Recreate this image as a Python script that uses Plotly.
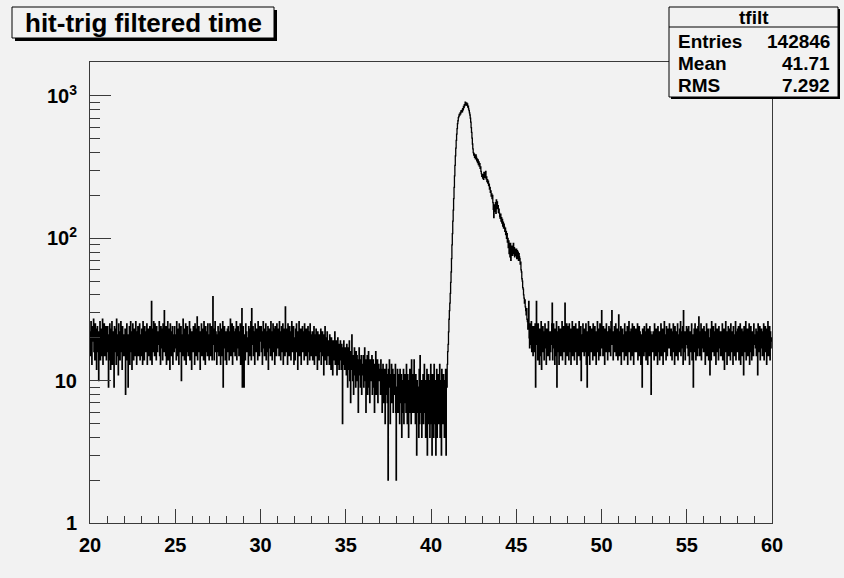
import numpy as np
import plotly.graph_objects as go

# ---- histogram "tfilt": hit-trig filtered time, 0.025 wide bins from 20 to 60 ----
x_lo = 20.0
x_hi = 60.0
bin_width = 0.025

# bin contents, one row per unit of time (40 bins each)
counts_by_unit = [
    [22, 15, 26, 18, 13, 24, 19, 21, 27, 16, 20, 14, 25, 17, 23, 12, 19, 24, 16, 21,
     10, 22, 18, 26, 14, 20, 23, 15, 19, 27, 13, 21, 17, 25, 15, 22, 18, 24, 14, 20],  # 20
    [18, 24, 16, 9, 21, 14, 25, 19, 12, 23, 17, 26, 13, 20, 22, 15, 9, 24, 18, 16,
     23, 13, 27, 19, 15, 21, 11, 25, 17, 22, 14, 20, 26, 16, 19, 12, 24, 18, 21, 15],  # 21
    [20, 15, 23, 8, 18, 22, 25, 14, 19, 9, 21, 17, 24, 13, 20, 26, 16, 22, 12, 19,
     25, 18, 14, 23, 17, 21, 15, 26, 19, 13, 22, 17, 24, 15, 20, 18, 25, 14, 21, 18],  # 22
    [15, 23, 19, 13, 26, 17, 21, 14, 24, 18, 22, 16, 20, 25, 13, 19, 23, 15, 21, 17,
     24, 14, 20, 18, 36, 13, 22, 16, 23, 26, 19, 15, 25, 17, 21, 14, 24, 20, 16, 22],  # 23
    [22, 18, 26, 15, 21, 13, 24, 19, 17, 23, 14, 25, 20, 16, 31, 19, 22, 15, 24, 13,
     21, 18, 26, 14, 20, 23, 17, 12, 25, 19, 15, 22, 18, 24, 13, 21, 20, 16, 24, 17],  # 24
    [17, 21, 14, 26, 19, 23, 15, 20, 13, 25, 18, 22, 16, 24, 10, 19, 21, 15, 27, 17,
     23, 14, 20, 18, 25, 13, 22, 16, 24, 19, 15, 21, 17, 26, 14, 23, 18, 20, 12, 22],  # 25
    [20, 16, 24, 18, 22, 13, 25, 19, 15, 23, 17, 28, 14, 21, 18, 24, 16, 20, 12, 22,
     19, 25, 15, 21, 17, 23, 14, 26, 18, 20, 13, 24, 16, 22, 19, 15, 25, 17, 21, 14],  # 26
    [19, 25, 15, 21, 17, 24, 14, 20, 39, 18, 23, 14, 20, 26, 16, 22, 18, 13, 21, 16,
     24, 19, 15, 22, 17, 25, 13, 20, 23, 15, 19, 26, 9, 21, 17, 24, 18, 14, 22, 16],  # 27
    [13, 20, 23, 16, 24, 18, 14, 22, 19, 27, 15, 21, 17, 25, 13, 20, 24, 16, 22, 18,
     15, 23, 19, 26, 14, 21, 17, 24, 20, 15, 22, 18, 25, 13, 21, 17, 32, 9, 20, 24],  # 28
    [16, 9, 17, 21, 14, 25, 19, 22, 16, 20, 18, 13, 24, 20, 15, 23, 17, 26, 14, 32,
     21, 18, 24, 15, 22, 19, 13, 25, 17, 21, 16, 23, 19, 14, 26, 18, 20, 15, 24, 21],  # 29
    [19, 24, 16, 22, 13, 20, 26, 17, 23, 15, 21, 18, 25, 14, 22, 19, 16, 24, 12, 20,
     23, 17, 21, 15, 26, 18, 22, 14, 20, 25, 16, 23, 19, 13, 24, 17, 21, 15, 25, 18],  # 30
    [23, 17, 21, 15, 26, 18, 22, 14, 20, 24, 16, 19, 25, 13, 21, 17, 23, 15, 33, 19,
     16, 23, 19, 13, 25, 17, 21, 15, 24, 18, 20, 14, 22, 26, 16, 21, 18, 24, 13, 20],  # 31
    [20, 14, 23, 18, 25, 16, 21, 12, 22, 19, 26, 15, 20, 17, 23, 13, 21, 18, 24, 16,
     19, 22, 14, 25, 17, 21, 15, 23, 18, 20, 13, 24, 16, 22, 19, 14, 25, 17, 21, 15],  # 32
    [19, 22, 14, 20, 17, 24, 13, 21, 18, 15, 23, 16, 19, 12, 22, 17, 20, 14, 21, 16,
     18, 23, 13, 20, 15, 22, 17, 19, 11, 21, 16, 24, 14, 18, 20, 13, 22, 17, 15, 19],  # 33
    [18, 13, 21, 16, 19, 12, 20, 15, 17, 11, 19, 14, 18, 16, 22, 13, 17, 15, 19, 11,
     16, 20, 13, 18, 12, 17, 14, 19, 15, 12, 18, 16, 5, 17, 13, 19, 15, 12, 17, 14],  # 34
    [16, 11, 18, 14, 9, 17, 12, 15, 19, 10, 14, 7, 16, 12, 21, 13, 10, 15, 8, 14,
     17, 11, 13, 9, 16, 12, 15, 10, 14, 6, 13, 17, 11, 14, 9, 12, 15, 8, 13, 11],  # 35
    [12, 15, 9, 13, 17, 10, 14, 6, 12, 11, 15, 8, 13, 16, 9, 12, 7, 14, 10, 13,
     11, 15, 8, 12, 14, 9, 11, 6, 13, 10, 16, 8, 12, 9, 14, 7, 11, 13, 10, 12],  # 36
    [11, 8, 14, 9, 12, 6, 10, 13, 7, 11, 9, 12, 5, 10, 8, 13, 11, 7, 10, 2,
     12, 9, 14, 10, 5, 11, 8, 13, 7, 10, 12, 6, 9, 11, 8, 10, 13, 6, 2, 9],  # 37
    [9, 12, 6, 11, 8, 10, 5, 12, 7, 9, 11, 4, 10, 6, 8, 12, 5, 9, 11, 7,
     10, 6, 13, 8, 5, 11, 9, 4, 10, 7, 12, 6, 9, 5, 14, 8, 11, 6, 10, 7],  # 38
    [14, 6, 9, 5, 11, 8, 3, 10, 6, 9, 7, 4, 12, 5, 15, 8, 6, 10, 4, 9,
     7, 11, 5, 8, 13, 6, 9, 4, 10, 7, 12, 3, 8, 5, 11, 6, 9, 4, 10, 13],  # 39
    [5, 8, 3, 11, 6, 9, 4, 13, 7, 5, 10, 3, 8, 12, 4, 9, 6, 11, 5, 8,
     13, 4, 10, 7, 3, 12, 6, 9, 5, 11, 8, 4, 10, 6, 12, 3, 11, 9, 13, 16],  # 40
    [18, 22, 27, 31, 35, 41, 49, 58, 72, 90, 108, 132, 158, 190, 228, 275, 325, 380, 430, 488,
     540, 590, 640, 670, 705, 720, 742, 735, 762, 750, 785, 770, 792, 775, 815, 800, 845, 830, 870, 855],  # 41
    [905, 885, 870, 895, 860, 880, 835, 850, 810, 790, 760, 735, 700, 655, 600, 555, 505, 460, 425, 400,
     385, 392, 370, 378, 362, 385, 372, 350, 362, 340, 355, 330, 345, 322, 335, 310, 318, 295, 285, 272],  # 42
    [275, 265, 280, 260, 290, 272, 285, 268, 295, 262, 270, 250, 258, 244, 252, 235, 240, 222, 228, 210,
     215, 198, 205, 190, 200, 178, 160, 140, 155, 172, 162, 178, 150, 186, 170, 180, 162, 170, 152, 160],  # 43
    [150, 142, 138, 148, 132, 140, 128, 136, 122, 130, 118, 126, 120, 112, 118, 106, 112, 100, 108, 94,
     100, 86, 96, 78, 88, 74, 92, 70, 84, 80, 88, 76, 82, 92, 78, 86, 74, 84, 80, 76],  # 44
    [84, 72, 82, 76, 80, 70, 78, 74, 72, 66, 68, 60, 58, 52, 50, 45, 44, 40, 38, 35,
     37, 33, 31, 29, 32, 27, 26, 23, 24, 36, 20, 17, 25, 22, 18, 26, 16, 21, 24, 15],  # 45
    [21, 16, 24, 18, 25, 9, 20, 36, 18, 22, 14, 25, 17, 20, 13, 23, 19, 15, 26, 12,
     21, 18, 24, 16, 22, 14, 19, 25, 17, 21, 13, 23, 18, 20, 15, 26, 17, 22, 14, 19],  # 46
    [16, 22, 18, 25, 35, 14, 19, 25, 17, 21, 13, 23, 15, 20, 26, 9, 18, 22, 16, 24,
     13, 20, 17, 23, 15, 21, 19, 26, 14, 22, 18, 24, 16, 20, 35, 13, 21, 18, 25, 15],  # 47
    [24, 17, 21, 14, 25, 19, 16, 23, 13, 21, 18, 26, 15, 20, 17, 24, 14, 22, 19, 25,
     16, 21, 13, 23, 18, 20, 15, 26, 17, 22, 14, 24, 10, 19, 21, 16, 25, 18, 22, 15],  # 48
    [23, 19, 16, 25, 13, 20, 9, 22, 18, 26, 15, 21, 13, 24, 17, 20, 16, 23, 19, 14,
     25, 18, 21, 15, 24, 17, 20, 13, 22, 19, 26, 16, 21, 14, 23, 18, 25, 15, 20, 17],  # 49
    [31, 18, 22, 15, 24, 17, 20, 13, 23, 19, 16, 25, 18, 21, 14, 22, 17, 24, 16, 20,
     23, 15, 26, 19, 31, 18, 21, 14, 22, 17, 24, 16, 20, 25, 15, 21, 18, 23, 14, 19],  # 50
    [29, 19, 15, 22, 18, 24, 13, 20, 17, 23, 16, 21, 19, 14, 25, 18, 22, 15, 20, 17,
     24, 13, 21, 19, 26, 16, 22, 18, 14, 23, 20, 15, 25, 17, 21, 13, 24, 19, 16, 22],  # 51
    [23, 16, 21, 18, 25, 14, 20, 17, 24, 15, 22, 19, 13, 21, 18, 9, 23, 17, 20, 15,
     24, 19, 16, 22, 14, 25, 18, 21, 13, 23, 17, 20, 15, 24, 19, 22, 8, 18, 21, 16],  # 52
    [16, 22, 19, 14, 25, 17, 21, 15, 23, 18, 20, 13, 24, 19, 16, 22, 14, 21, 18, 25,
     15, 20, 17, 23, 13, 22, 19, 26, 16, 21, 18, 14, 24, 20, 15, 23, 17, 21, 19, 25],  # 53
    [17, 20, 15, 23, 19, 14, 22, 18, 25, 16, 21, 13, 24, 18, 20, 15, 22, 17, 25, 14,
     21, 19, 16, 23, 18, 26, 15, 20, 22, 17, 24, 13, 31, 19, 16, 22, 14, 21, 18, 24],  # 54
    [23, 17, 21, 15, 24, 19, 13, 22, 18, 20, 16, 25, 14, 21, 17, 9, 20, 23, 16, 25,
     18, 14, 23, 19, 21, 15, 24, 17, 28, 20, 15, 22, 18, 25, 14, 21, 17, 23, 19, 16],  # 55
    [24, 16, 20, 13, 22, 18, 25, 15, 21, 17, 23, 14, 20, 19, 11, 23, 19, 14, 26, 18,
     21, 16, 24, 19, 15, 22, 17, 25, 13, 20, 18, 23, 16, 21, 14, 24, 19, 17, 22, 15],  # 56
    [15, 22, 18, 25, 14, 20, 17, 23, 12, 21, 19, 26, 16, 22, 13, 20, 18, 24, 15, 21,
     17, 23, 14, 25, 19, 16, 22, 18, 13, 24, 20, 15, 21, 17, 26, 14, 22, 19, 16, 23],  # 57
    [18, 24, 14, 21, 17, 25, 13, 20, 19, 23, 15, 22, 18, 11, 24, 16, 21, 19, 26, 14,
     20, 17, 23, 15, 22, 18, 25, 13, 21, 16, 24, 19, 14, 22, 17, 20, 15, 25, 18, 21],  # 58
    [20, 17, 23, 15, 22, 19, 11, 25, 18, 21, 16, 24, 14, 20, 17, 23, 19, 15, 22, 18,
     25, 14, 21, 17, 24, 16, 20, 13, 23, 19, 26, 15, 21, 18, 24, 14, 22, 17, 20, 19],  # 59
]

# statistics box contents
hist_name = "tfilt"
stat_labels = ["Entries", "Mean", "RMS"]
stat_values = ["142846", "41.71", "7.292"]
title_text = "hit-trig filtered time"

# axis ticks
x_ticks = [20, 25, 30, 35, 40, 45, 50, 55, 60]
y_ticks = [1, 10, 100, 1000]
y_tick_text = ["1", "10", "10<sup>2</sup>", "10<sup>3</sup>"]
y_max = 1733

# ---- geometry (pixels) ----
W, H = 844, 578
ML, MR, MT, MB = 90, 72, 62, 55
PW = W - ML - MR
PH = H - MT - MB

BG = "#f2f2f2"
FONT = "Liberation Sans, Arial, Helvetica, sans-serif"


def px(x):
    return (x - ML) / PW


def py(y):
    return (H - MB - y) / PH


bad_rows = [i for i, r in enumerate(counts_by_unit) if len(r) != 40]
assert not bad_rows, f"rows with wrong length: {bad_rows}"
counts = [c for row in counts_by_unit for c in row]

# step outline of the histogram
n_bins = len(counts)
edges = x_lo + bin_width * np.arange(n_bins + 1)
step_y = list(counts) + [counts[-1]]

fig = go.Figure()
fig.add_trace(go.Scatter(
    x=edges, y=step_y, mode="lines",
    line=dict(color="black", width=1.3, shape="hv"),
    hoverinfo="skip", showlegend=False,
))

minor_x = [v for v in range(21, 60) if v % 5 != 0]
minor_y = [m * 10 ** d for d in range(0, 4) for m in range(2, 10) if m * 10 ** d < y_max]

fig.update_xaxes(
    range=[x_lo, x_hi], showgrid=False, zeroline=False,
    showline=True, linecolor="#3a3a3a", linewidth=1, mirror=True,
    tickmode="array", tickvals=x_ticks, ticktext=[str(v) for v in x_ticks],
    ticks="inside", ticklen=14, tickcolor="#3a3a3a", tickwidth=1,
    minor=dict(ticks="inside", ticklen=7, tickvals=minor_x, tickcolor="#3a3a3a", showgrid=False),
    tickfont=dict(family=FONT, size=20, color="black", weight="bold"),
    ticklabelstandoff=4,
)
fig.update_yaxes(
    type="log", range=[0, np.log10(y_max)], showgrid=False, zeroline=False,
    showline=True, linecolor="#3a3a3a", linewidth=1, mirror=True,
    tickmode="array", tickvals=y_ticks, ticktext=y_tick_text,
    ticks="inside", ticklen=21, tickcolor="#3a3a3a", tickwidth=1,
    minor=dict(ticks="inside", ticklen=10, tickvals=minor_y, tickcolor="#3a3a3a", showgrid=False),
    tickfont=dict(family=FONT, size=20, color="black", weight="bold"),
    ticklabelstandoff=8,
)

shapes = []
annotations = []


def boxed(x0, y0, x1, y1, shadow=3):
    # drop shadow then framed box
    shapes.append(dict(type="rect", xref="paper", yref="paper",
                       x0=px(x0 + shadow), x1=px(x1 + shadow), y0=py(y1 + shadow), y1=py(y0 + shadow),
                       fillcolor="black", line=dict(width=0), layer="above"))
    shapes.append(dict(type="rect", xref="paper", yref="paper",
                       x0=px(x0), x1=px(x1), y0=py(y1), y1=py(y0),
                       fillcolor=BG, line=dict(color="black", width=1), layer="above"))


# title box
boxed(12, 7, 274, 38)
annotations.append(dict(xref="paper", yref="paper", x=px(143), y=py(23), text=title_text,
                        showarrow=False, xanchor="center", yanchor="middle",
                        font=dict(family=FONT, size=26, color="black", weight="bold")))

# statistics box
sb_x0, sb_y0, sb_x1, sb_y1 = 669, 7, 838, 97
boxed(sb_x0, sb_y0, sb_x1, sb_y1, shadow=2)
shapes.append(dict(type="line", xref="paper", yref="paper",
                   x0=px(sb_x0), x1=px(sb_x1), y0=py(27), y1=py(27),
                   line=dict(color="black", width=1), layer="above"))
annotations.append(dict(xref="paper", yref="paper", x=px((sb_x0 + sb_x1) / 2), y=py(17.5),
                        text=hist_name, showarrow=False, xanchor="center", yanchor="middle",
                        font=dict(family=FONT, size=19, color="black", weight="bold")))
row_y = [41.5, 63.5, 85]
for lab, val, ry in zip(stat_labels, stat_values, row_y):
    annotations.append(dict(xref="paper", yref="paper", x=px(676), y=py(ry), text=lab,
                            showarrow=False, xanchor="left", yanchor="middle",
                            font=dict(family=FONT, size=19, color="black", weight="bold")))
    annotations.append(dict(xref="paper", yref="paper", x=px(832), y=py(ry), text=val,
                            showarrow=False, xanchor="right", yanchor="middle",
                            font=dict(family=FONT, size=19, color="black", weight="bold")))

fig.update_layout(
    width=W, height=H,
    margin=dict(l=ML, r=MR, t=MT, b=MB, pad=0),
    paper_bgcolor=BG, plot_bgcolor=BG,
    showlegend=False,
    shapes=shapes, annotations=annotations,
)

fig.write_html("out.html")
